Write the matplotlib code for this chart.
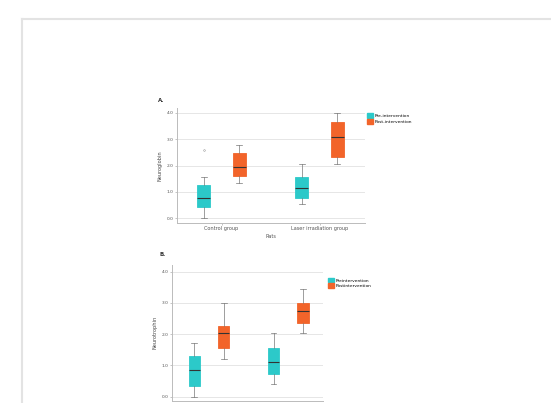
import matplotlib.pyplot as plt
from matplotlib.lines import Line2D
from matplotlib.patches import Patch

W, H = 551, 403

groups = ["Control group", "Laser irradiation group"]
colors = ["#2cc9c9", "#f2642a"]

# panel A: [pre, post] for each group -> (whislo, q1, med, q3, whishi)
a_labels = ["Pre-intervention", "Post-intervention"]
a_pre = [(0.01, 0.43, 0.75, 1.26, 1.55), (0.52, 0.75, 1.16, 1.55, 2.06)]
a_post = [(1.35, 1.60, 1.95, 2.46, 2.78), (2.06, 2.34, 3.10, 3.65, 3.99)]
a_fliers = [[2.59], []]

# panel B
b_labels = ["Preintervention", "Postintervention"]
b_pre = [(0.00, 0.34, 0.85, 1.29, 1.71), (0.41, 0.73, 1.12, 1.55, 2.05)]
b_post = [(1.20, 1.55, 2.05, 2.26, 3.01), (2.05, 2.37, 2.74, 3.01, 3.44)]

yticks = [0, 1, 2, 3, 4]


def px_axes(fig, x0, y0, x1, y1):
    return fig.add_axes([x0 / W, 1 - y1 / H, (x1 - x0) / W, (y1 - y0) / H])


def stats(v, fliers=()):
    return dict(whislo=v[0], q1=v[1], med=v[2], q3=v[3], whishi=v[4], fliers=list(fliers))


def draw_panel(ax, pre, post, fliers, offset, width, xlim, ylim):
    for i, (series, col) in enumerate([(pre, colors[0]), (post, colors[1])]):
        sign = -1 if i == 0 else 1
        st = [stats(v, fliers[k] if (fliers and i == 0) else ()) for k, v in enumerate(series)]
        pos = [k + sign * offset for k in range(len(series))]
        ax.bxp(st, positions=pos, widths=width, patch_artist=True, manage_ticks=False,
               boxprops=dict(facecolor=col, edgecolor=col, linewidth=0.6),
               medianprops=dict(color="#333333", linewidth=0.8),
               whiskerprops=dict(color="#777777", linewidth=0.5),
               capprops=dict(color="#777777", linewidth=0.5),
               flierprops=dict(marker="o", markersize=1.2, markerfacecolor="none",
                               markeredgecolor="#999999", markeredgewidth=0.4))
    ax.set_xlim(*xlim)
    ax.set_ylim(*ylim)
    ax.set_yticks(yticks)
    ax.set_yticklabels([f"{t:.1f}" for t in yticks], fontsize=3.2, color="#555555")
    ax.yaxis.grid(True, color="#e2e2e2", linewidth=0.6)
    ax.set_axisbelow(True)
    for s in ["top", "right"]:
        ax.spines[s].set_visible(False)
    for s in ["left", "bottom"]:
        ax.spines[s].set_color("#bbbbbb")
        ax.spines[s].set_linewidth(0.7)
    ax.tick_params(length=1.5, width=0.4, color="#999999", pad=1)


fig = plt.figure(figsize=(W / 100, H / 100), dpi=100)

# page frame
fig.add_artist(Line2D([21.5 / W, 21.5 / W], [0, 1 - 18.5 / H], color="#e3e3e3", linewidth=1.5))
fig.add_artist(Line2D([21.5 / W, 1], [1 - 18.5 / H, 1 - 18.5 / H], color="#e3e3e3", linewidth=1.5))

# panel A
ax1 = px_axes(fig, 177, 108, 365, 223)
draw_panel(ax1, a_pre, a_post, a_fliers, 0.18, 0.135, (-0.454, 1.464), (-0.19, 4.19))
ax1.set_xticks(range(len(groups)))
ax1.set_xticklabels(groups, fontsize=3.6, color="#555555")
ax1.set_xlabel("Rats", fontsize=3.6, color="#555555", labelpad=2)
ax1.set_ylabel("Neuroglobin", fontsize=3.6, color="#444444", labelpad=3)
fig.text(158 / W, 1 - 100 / H, "A.", fontsize=4, fontweight="bold", color="#333333", va="center")
ax1.legend(handles=[Patch(color=c, label=l) for c, l in zip(colors, a_labels)],
           loc="upper left", bbox_to_anchor=(1.0, 0.97), frameon=False, fontsize=3.2,
           handlelength=1.3, handleheight=1.3, handletextpad=0.4, labelspacing=0.15,
           borderaxespad=0)

# panel B (its x labels fall below the page edge)
ax2 = px_axes(fig, 172, 265, 323, 400.7)
draw_panel(ax2, b_pre, b_post, None, 0.185, 0.147, (-0.467, 1.44), (-0.13, 4.21))
ax2.set_xticks([])
ax2.set_ylabel("Neurotrophin", fontsize=3.6, color="#444444", labelpad=3)
fig.text(160 / W, 1 - 255 / H, "B.", fontsize=4, fontweight="bold", color="#333333", va="center")
ax2.legend(handles=[Patch(color=c, label=l) for c, l in zip(colors, b_labels)],
           loc="upper left", bbox_to_anchor=(1.02, 0.92), frameon=False, fontsize=3.2,
           handlelength=1.3, handleheight=1.3, handletextpad=0.4, labelspacing=0.15,
           borderaxespad=0)

fig.savefig("out.png", dpi=100)
